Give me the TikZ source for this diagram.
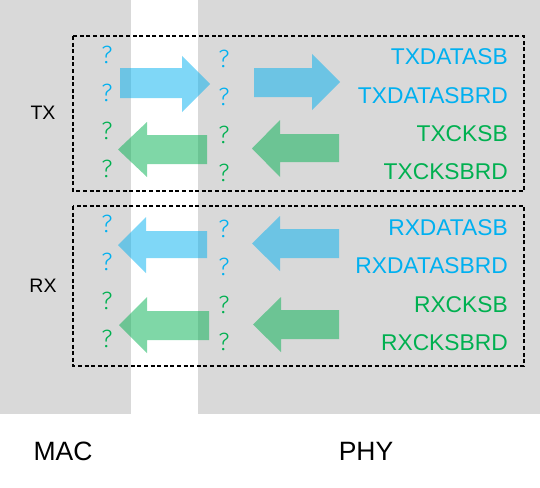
\documentclass[tikz,border=0pt]{standalone}
\usepackage{fontspec}
\setmainfont{Liberation Sans}
\newfontfamily\qfont{Fira Sans Light}
\definecolor{bgray}{HTML}{D9D9D9}
\definecolor{cblue}{HTML}{00B0F0}
\definecolor{cgreen}{HTML}{00B050}
\begin{document}
\begin{tikzpicture}[x=1pt,y=-1pt,
  lbl/.style={anchor=east,inner sep=0pt,font=\fontsize{22.8}{26}\selectfont},
  qm/.style={inner sep=0pt,font=\qfont\fontsize{25}{30}\selectfont},
  side/.style={inner sep=0pt,font=\fontsize{19.5}{22}\selectfont},
  big/.style={inner sep=0pt,font=\fontsize{26.5}{30}\selectfont},
  dbox/.style={draw=black,line width=1.3pt,dash pattern=on 4pt off 2.6pt},
  barb/.style={fill=cblue,fill opacity=0.5},
  garb/.style={fill=cgreen,fill opacity=0.5}]
\useasboundingbox (0,0) rectangle (540,487);
\fill[white] (0,0) rectangle (540,487);
\fill[bgray] (0,0) rectangle (131,414);
\fill[bgray] (198,0) rectangle (540,414);
% dashed boxes
\draw[dbox] (73,36) rectangle (524,191);
\draw[dbox] (73,206) rectangle (524,366);
% arrows (right-pointing)
\fill[barb] (120,68) -- (182,68) -- (182,56) -- (210,84) -- (182,112) -- (182,98) -- (120,98) -- cycle;
\fill[barb] (254,68) -- (312,68) -- (312,54) -- (340,82) -- (312,110) -- (312,97) -- (254,97) -- cycle;
% left-pointing
\fill[garb] (207,135) -- (147,135) -- (147,122) -- (118,149.5) -- (147,177) -- (147,164) -- (207,164) -- cycle;
\fill[garb] (339,134) -- (280,134) -- (280,120) -- (252,148.5) -- (280,177) -- (280,162) -- (339,162) -- cycle;
\fill[barb] (207,231) -- (146,231) -- (146,217) -- (118,245) -- (146,273) -- (146,258) -- (207,258) -- cycle;
\fill[barb] (339,229) -- (280,229) -- (280,216) -- (252,243.5) -- (280,271) -- (280,258) -- (339,258) -- cycle;
\fill[garb] (209,311) -- (147,311) -- (147,297) -- (119,325) -- (147,353) -- (147,340) -- (209,340) -- cycle;
\fill[garb] (339,310) -- (281,310) -- (281,297) -- (253,324.5) -- (281,352) -- (281,339) -- (339,339) -- cycle;
% question marks
\node[qm,text=cblue]  (q1)  at (107,55)  {?};
\node[qm,text=cblue]  (q2)  at (107,93)  {?};
\node[qm,text=cgreen] (q3)  at (107,131) {?};
\node[qm,text=cgreen] (q4)  at (107,169) {?};
\node[qm,text=cblue]  (q5)  at (224,59)  {?};
\node[qm,text=cblue]  (q6)  at (224,97)  {?};
\node[qm,text=cgreen] (q7)  at (224,135) {?};
\node[qm,text=cgreen] (q8)  at (224,173) {?};
\node[qm,text=cblue]  (q9)  at (107,224) {?};
\node[qm,text=cblue]  (q10) at (107,262) {?};
\node[qm,text=cgreen] (q11) at (107,301) {?};
\node[qm,text=cgreen] (q12) at (107,339) {?};
\node[qm,text=cblue]  (q13) at (224,229) {?};
\node[qm,text=cblue]  (q14) at (224,267) {?};
\node[qm,text=cgreen] (q15) at (224,305) {?};
\node[qm,text=cgreen] (q16) at (224,342) {?};
% labels
\node[lbl,text=cblue]  (l1) at (508,57)  {TXDATASB};
\node[lbl,text=cblue]  (l2) at (508,96)  {TXDATASBRD};
\node[lbl,text=cgreen] (l3) at (508,134) {TXCKSB};
\node[lbl,text=cgreen] (l4) at (508,172) {TXCKSBRD};
\node[lbl,text=cblue]  (l5) at (508,228) {RXDATASB};
\node[lbl,text=cblue]  (l6) at (508,266) {RXDATASBRD};
\node[lbl,text=cgreen] (l7) at (508,304.5) {RXCKSB};
\node[lbl,text=cgreen] (l8) at (508,343) {RXCKSBRD};
\node[side] (tx) at (43,112.5) {TX};
\node[side] (rx) at (43,286) {RX};
\node[big] (mac) at (63,451) {MAC};
\node[big] (phy) at (366,451) {PHY};
\end{tikzpicture}
\end{document}
